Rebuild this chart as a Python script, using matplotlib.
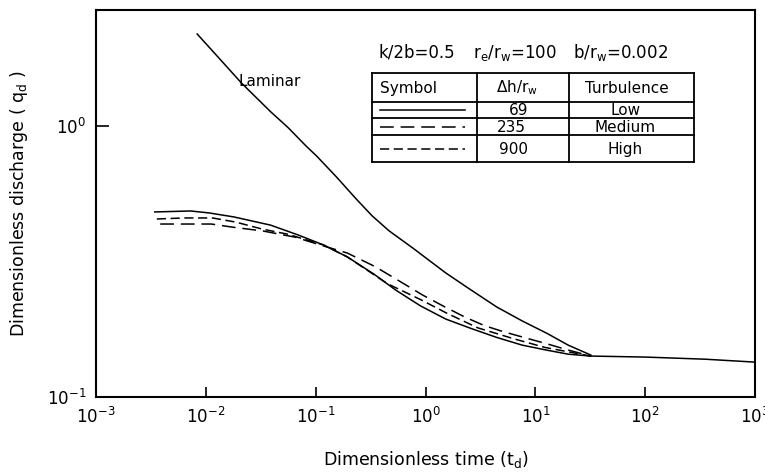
import matplotlib
matplotlib.use("Agg")
import matplotlib.pyplot as plt
from matplotlib.lines import Line2D

plt.rcParams['font.family'] = ['DejaVu Sans']
plt.rcParams['mathtext.default'] = 'regular'

# ---------------- data ----------------
laminar_t = [0.00834, 0.0134, 0.0211, 0.0388, 0.0556, 0.0817, 0.102, 0.155, 0.234, 0.327, 0.464,
             0.764, 1.53, 2.61, 4.45, 7.58, 12.7, 19.9, 31.9]
laminar_q = [2.185, 1.767, 1.441, 1.130, 0.990, 0.844, 0.775, 0.648, 0.538, 0.466, 0.411,
             0.355, 0.287, 0.248, 0.215, 0.191, 0.172, 0.1555, 0.143]

low_t = [0.00343, 0.00726, 0.0107, 0.0180, 0.0388, 0.0697, 0.118, 0.194, 0.340, 0.537, 0.90,
         1.53, 2.61, 4.45, 7.58, 12.7, 19.9, 31.9]
low_q = [0.482, 0.486, 0.478, 0.462, 0.431, 0.396, 0.364, 0.329, 0.284, 0.248, 0.217,
         0.194, 0.179, 0.166, 0.1555, 0.149, 0.144, 0.1417]

medium_t = [0.00384, 0.00726, 0.0112, 0.0172, 0.0331, 0.0652, 0.118, 0.194, 0.347, 0.596,
            0.94, 1.44, 2.30, 3.44, 5.06, 8.07, 12.9, 19.5, 31.9]
medium_q = [0.435, 0.435, 0.435, 0.424, 0.410, 0.389, 0.361, 0.340, 0.303, 0.266,
            0.238, 0.217, 0.197, 0.1835, 0.1745, 0.1655, 0.157, 0.1495, 0.1417]

high_t = [0.00358, 0.00634, 0.0115, 0.0188, 0.0324, 0.0556, 0.118, 0.194, 0.45, 0.9,
          1.56, 3.0, 6.4, 12.2, 31.9]
high_q = [0.454, 0.458, 0.458, 0.442, 0.417, 0.399, 0.364, 0.329, 0.262, 0.229,
          0.204, 0.180, 0.164, 0.1525, 0.1417]

tail_t = [31.9, 100, 348, 1000]
tail_q = [0.1417, 0.1405, 0.138, 0.1346]

x_ticks = [1e-3, 1e-2, 1e-1, 1e0, 1e1, 1e2, 1e3]
y_ticks = [1e-1, 1e0]

legend_rows = [("69", "Low"), ("235", "Medium"), ("900", "High")]
params = [r"k/2b=0.5", r"r$_e$/r$_w$=100", r"b/r$_w$=0.002"]

# ---------------- figure ----------------
fig = plt.figure(figsize=(7.65, 4.75), dpi=100)
ax = fig.add_axes([0.1255, 0.164, 0.8615, 0.815])

lw = 1.1
styles = {
    "low": dict(color="black", lw=lw, linestyle="-"),
    "medium": dict(color="black", lw=lw, linestyle=(0, (9, 4.5))),
    "high": dict(color="black", lw=lw, linestyle=(0, (6, 3))),
}

ax.plot(laminar_t, laminar_q, color="black", lw=lw)
ax.plot(low_t, low_q, **styles["low"])
ax.plot(medium_t, medium_q, **styles["medium"])
ax.plot(high_t, high_q, **styles["high"])
ax.plot(tail_t, tail_q, color="black", lw=lw)

ax.set_xscale("log")
ax.set_yscale("log")
ax.set_xlim(1e-3, 1e3)
ax.set_ylim(1e-1, 2.68)
ax.set_xticks(x_ticks)
ax.set_yticks(y_ticks)
ax.minorticks_off()
ax.tick_params(axis="x", direction="in", length=7, width=1.2, labelsize=12, pad=7)
ax.tick_params(axis="y", direction="in", length=9, width=1.2, labelsize=12, pad=7)
for s in ax.spines.values():
    s.set_linewidth(1.5)

ax.set_xlabel(r"Dimensionless time (t$_d$)", fontsize=12.5, labelpad=16)
ax.set_ylabel(r"Dimensionless discharge ( q$_d$ )", fontsize=12.5, labelpad=12)

ax.text(0.2155, 0.814, "Laminar", transform=ax.transAxes, fontsize=11, va="center", ha="left")

# parameter line
for txt, xp in zip(params, [0.428, 0.572, 0.724]):
    ax.text(xp, 0.889, txt, transform=ax.transAxes, fontsize=12, va="center", ha="left")

# legend table
tl, c1, c2, tr = 0.4188, 0.5781, 0.7178, 0.9074
rows_y = [0.8372, 0.7623, 0.7209, 0.6770, 0.6072]
tk = dict(transform=ax.transAxes, color="black", lw=1.3, clip_on=False)
for yy in rows_y:
    ax.add_line(Line2D([tl, tr], [yy, yy], **tk))
for xx in [tl, c1, c2, tr]:
    ax.add_line(Line2D([xx, xx], [rows_y[0], rows_y[-1]], **tk))

ax.text(0.431, 0.7984, "Symbol", transform=ax.transAxes, fontsize=11, va="center", ha="left")
ax.text(0.639, 0.7984, r"$\Delta$h/r$_w$", transform=ax.transAxes, fontsize=11, va="center", ha="center")
ax.text(0.806, 0.7984, "Turbulence", transform=ax.transAxes, fontsize=11, va="center", ha="center")

row_centers = [0.7416, 0.6977, 0.6408]
row_styles = ["low", "medium", "high"]
val_x = [0.642, 0.630, 0.633]
for (val, lab), yc, st, vx in zip(legend_rows, row_centers, row_styles, val_x):
    ax.add_line(Line2D([0.431, 0.560], [yc, yc], transform=ax.transAxes, **styles[st]))
    ax.text(vx, yc, val, transform=ax.transAxes, fontsize=11, va="center", ha="center")
    ax.text(0.803, yc, lab, transform=ax.transAxes, fontsize=11, va="center", ha="center")

fig.savefig("out.png", dpi=100)
